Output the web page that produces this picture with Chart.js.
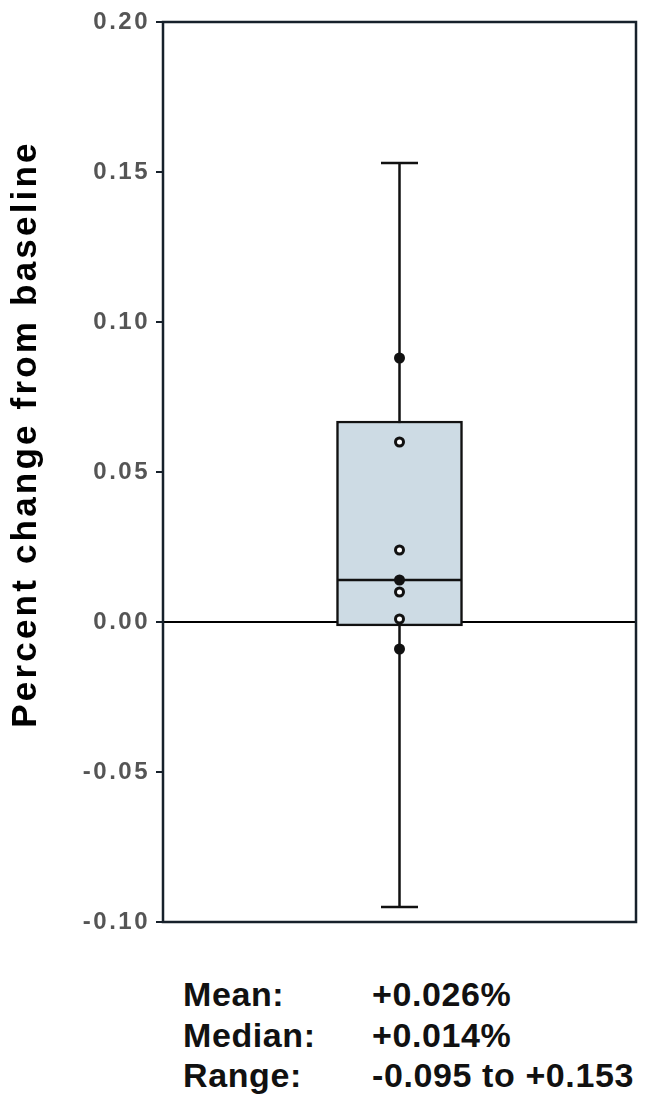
<!DOCTYPE html>
<html>
<head>
<meta charset="utf-8">
<script src="https://cdn.jsdelivr.net/npm/chart.js@4/dist/chart.umd.min.js"></script>
<style>
  body { margin: 0; background: #fff; }
  #wrap { position: relative; width: 650px; height: 1115px; }
  #stats {
    position: absolute; left: 183px; top: 974px;
    font: bold 34px "Liberation Sans", Arial, sans-serif;
    letter-spacing: 0.6px; line-height: 40.5px; color: #111;
  }
  #stats .row { display: flex; }
  #stats .lab { width: 189px; }
</style>
</head>
<body>
<div id="wrap">
  <canvas id="box-chart" width="650" height="950"></canvas>
  <div id="stats">
    <div class="row"><span class="lab">Mean:</span><span>+0.026%</span></div>
    <div class="row"><span class="lab">Median:</span><span>+0.014%</span></div>
    <div class="row"><span class="lab">Range:</span><span>-0.095 to +0.153</span></div>
  </div>
</div>
<script>
// Data
var categories = ["Change"];
var boxRange = [-0.0013, 0.067]; // Q1, Q3
var medianValue = 0.014;
var whiskerMin = -0.095;
var whiskerMax = 0.153;
var pointValues = [0.088, 0.060, 0.024, 0.014, 0.010, 0.001, -0.009];
var pointFilled = [true, false, false, true, false, false, true];
var yTicks = [-0.10, -0.05, 0.00, 0.05, 0.10, 0.15, 0.20];
var yTitle = "Percent change from baseline";

var dark = "#17212b";

// Frame around the plot + rotated axis title
var framePlugin = {
  id: "frame",
  beforeDraw: function (chart) {
    chart.ctx.letterSpacing = "2.5px";
  },
  afterDraw: function (chart) {
    var ctx = chart.ctx;
    var a = chart.chartArea;
    ctx.save();
    ctx.letterSpacing = "0px";
    ctx.strokeStyle = dark;
    ctx.lineWidth = 2.5;
    ctx.strokeRect(a.left, a.top, a.right - a.left, a.bottom - a.top);
    ctx.restore();

    ctx.save();
    ctx.translate(26, 434);
    ctx.rotate(-Math.PI / 2);
    ctx.letterSpacing = "3.2px";
    ctx.font = "bold 35px 'Liberation Sans', Arial, sans-serif";
    ctx.fillStyle = "#000";
    ctx.textAlign = "center";
    ctx.textBaseline = "middle";
    ctx.fillText(yTitle, 0, 0);
    ctx.restore();
    ctx.letterSpacing = "0px";
  },
};

var ctx = document.getElementById("box-chart").getContext("2d");

new Chart(ctx, {
  type: "bar",
  data: {
    labels: categories,
    datasets: [
      {
        // dots
        type: "scatter",
        data: pointValues.map(function (v) { return { x: categories[0], y: v }; }),
        pointStyle: "circle",
        pointRadius: 4,
        borderWidth: 3,
        borderColor: "#111",
        backgroundColor: pointFilled.map(function (f) { return f ? "#111" : "#fff"; }),
        order: 1,
      },
      {
        // median line and whisker caps
        type: "scatter",
        data: [
          { x: categories[0], y: medianValue },
          { x: categories[0], y: whiskerMin },
          { x: categories[0], y: whiskerMax },
        ],
        pointStyle: "line",
        pointRadius: [62, 18.5, 18.5],
        borderWidth: 2.5,
        borderColor: "#111",
        order: 2,
      },
      {
        // box
        data: [boxRange],
        backgroundColor: "#cddbe4",
        borderColor: "#111",
        borderWidth: 2.5,
        borderSkipped: false,
        barThickness: 126,
        order: 3,
      },
      {
        // whisker
        type: "line",
        data: [
          { x: categories[0], y: whiskerMin },
          { x: categories[0], y: whiskerMax },
        ],
        borderColor: "#111",
        borderWidth: 2.5,
        pointRadius: 0,
        order: 4,
      },
    ],
  },
  plugins: [framePlugin],
  options: {
    responsive: false,
    animation: false,
    layout: { autoPadding: false, padding: { left: 0, right: 14, top: 22, bottom: 28 } },
    plugins: {
      legend: { display: false },
      tooltip: { enabled: false },
    },
    scales: {
      x: {
        display: false,
        offset: true,
      },
      y: {
        min: -0.1,
        max: 0.2,
        afterFit: function (scale) {
          scale.width = 163;
        },
        afterBuildTicks: function (scale) {
          scale.ticks = yTicks.map(function (v) { return { value: v }; });
        },
        border: { display: false },
        grid: {
          color: function (c) {
            return c.tick && Math.abs(c.tick.value) < 1e-9 ? "#000" : "rgba(0,0,0,0)";
          },
          lineWidth: 2,
          tickColor: dark,
          tickLength: 7,
          tickWidth: 2,
        },
        ticks: {
          color: "#555",
          padding: 6,
          font: { family: "'Liberation Sans', Arial, sans-serif", size: 24, weight: "bold" },
          callback: function (value) {
            return value.toFixed(2);
          },
        },
      },
    },
  },
});
</script>
</body>
</html>
